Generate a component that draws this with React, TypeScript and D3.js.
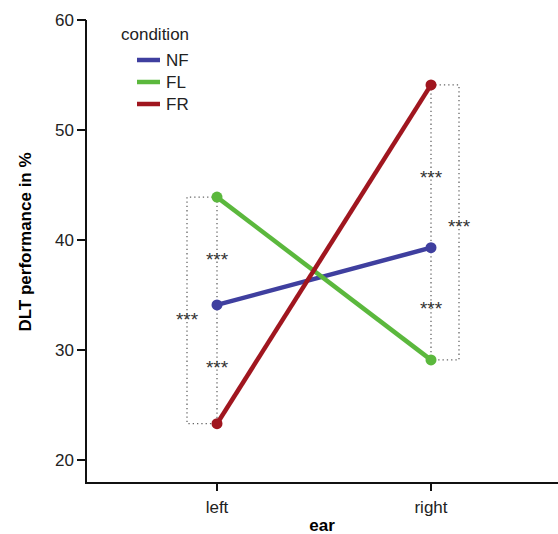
import { useEffect, useRef } from 'react';
import * as d3 from 'd3';

const ears = ['left', 'right'];
const conditions = ['NF', 'FL', 'FR'];
const colors = ['#3f3f9f', '#5bb83d', '#a0161f'];
const nfValues = [34.1, 39.3];
const flValues = [43.9, 29.1];
const frValues = [23.3, 54.1];
const yTicks = [20, 30, 40, 50, 60];

// significance brackets between conditions within each ear (star label height in data units)
const brackets = [
  { ear: 'left', a: 43.9, b: 34.1, star: 38.7, outer: false },
  { ear: 'left', a: 34.1, b: 23.3, star: 28.8, outer: false },
  { ear: 'left', a: 43.9, b: 23.3, star: 33.2, outer: true },
  { ear: 'right', a: 54.1, b: 39.3, star: 46.1, outer: false },
  { ear: 'right', a: 39.3, b: 29.1, star: 34.2, outer: false },
  { ear: 'right', a: 54.1, b: 29.1, star: 41.7, outer: true },
];

const W = 558, H = 534;

export default function App() {
  const ref = useRef<SVGSVGElement>(null);

  useEffect(() => {
    const svg = d3.select(ref.current);
    svg.selectAll('*').remove();
    const font = 'Liberation Sans, Arial, sans-serif';

    const x = d3.scalePoint().domain(ears).range([217, 431]);
    const y = d3.scaleLinear().domain([20, 60]).range([460, 20]);
    const axisX = 86, axisY = 483;

    // y axis
    svg.append('line').attr('x1', axisX).attr('x2', axisX)
      .attr('y1', y(60)).attr('y2', axisY).attr('stroke', '#111').attr('stroke-width', 2);
    const yt = svg.append('g').selectAll('g').data(yTicks).enter().append('g');
    yt.append('line').attr('x1', axisX - 9).attr('x2', axisX)
      .attr('y1', d => y(d)).attr('y2', d => y(d)).attr('stroke', '#111').attr('stroke-width', 2);
    yt.append('text').attr('x', axisX - 12).attr('y', d => y(d)).attr('dy', '0.35em')
      .attr('text-anchor', 'end').attr('font-family', font).attr('font-size', 17).attr('fill', '#222')
      .text(d => d);

    // x axis
    svg.append('line').attr('x1', axisX - 1).attr('x2', W)
      .attr('y1', axisY).attr('y2', axisY).attr('stroke', '#111').attr('stroke-width', 2);
    const xt = svg.append('g').selectAll('g').data(ears).enter().append('g');
    xt.append('line').attr('x1', d => x(d)!).attr('x2', d => x(d)!)
      .attr('y1', axisY).attr('y2', axisY + 8).attr('stroke', '#111').attr('stroke-width', 2);
    xt.append('text').attr('x', d => x(d)!).attr('y', axisY + 30)
      .attr('text-anchor', 'middle').attr('font-family', font).attr('font-size', 17).attr('fill', '#222')
      .text(d => d);

    svg.append('text').attr('x', 322).attr('y', 531).attr('text-anchor', 'middle')
      .attr('font-family', font).attr('font-size', 17).attr('font-weight', 'bold').text('ear');
    svg.append('text').attr('transform', 'translate(31,242) rotate(-90)').attr('text-anchor', 'middle')
      .attr('font-family', font).attr('font-size', 17).attr('font-weight', 'bold').text('DLT performance in %');

    // brackets
    const bg = svg.append('g');
    brackets.forEach(b => {
      const cx = x(b.ear)!;
      const bx = b.outer ? (b.ear === 'left' ? cx - 30 : cx + 28) : cx;
      const path = b.outer
        ? `M${cx},${y(b.a)}H${bx}V${y(b.b)}H${cx}`
        : `M${bx},${y(b.a)}V${y(b.b)}`;
      bg.append('path').attr('d', path).attr('fill', 'none')
        .attr('stroke', '#666').attr('stroke-width', 1.3).attr('stroke-dasharray', '1.3,3');
      bg.append('text').attr('x', bx).attr('y', y(b.star)).attr('dy', '0.59em')
        .attr('text-anchor', 'middle').attr('font-family', font).attr('font-size', 19).attr('fill', '#333')
        .text('***');
    });

    // lines
    const series = [nfValues, flValues, frValues];
    const line = d3.line<number>().x((_, i) => x(ears[i])!).y(d => y(d));
    series.forEach((s, i) => {
      svg.append('path').datum(s).attr('d', line).attr('fill', 'none')
        .attr('stroke', colors[i]).attr('stroke-width', 4.5);
      svg.append('g').selectAll('circle').data(s).enter().append('circle')
        .attr('cx', (_, j) => x(ears[j])!).attr('cy', d => y(d)).attr('r', 5.5).attr('fill', colors[i]);
    });

    // legend
    const lg = svg.append('g');
    lg.append('text').attr('x', 121).attr('y', 40).attr('font-family', font).attr('font-size', 17)
      .attr('fill', '#222').text('condition');
    conditions.forEach((c, i) => {
      const ly = 60 + i * 22;
      lg.append('line').attr('x1', 137).attr('x2', 160).attr('y1', ly).attr('y2', ly)
        .attr('stroke', colors[i]).attr('stroke-width', 4.5);
      lg.append('text').attr('x', 166).attr('y', ly).attr('dy', '0.35em').attr('font-family', font)
        .attr('font-size', 17).attr('fill', '#222').text(c);
    });
  }, []);

  return <svg ref={ref} width={W} height={H} style={{ position: 'absolute', left: 0, top: 0 }} />;
}
